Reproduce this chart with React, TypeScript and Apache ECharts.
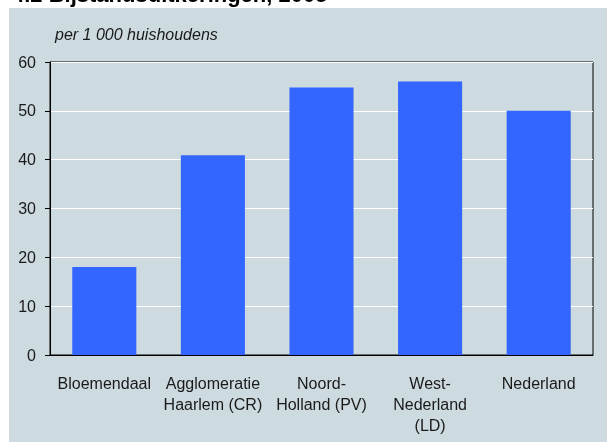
import React, { useEffect, useRef } from "react";
import * as echarts from "echarts";

const categories = [
  "Bloemendaal",
  "Agglomeratie\nHaarlem (CR)",
  "Noord-\nHolland (PV)",
  "West-\nNederland\n(LD)",
  "Nederland",
];
const values = [18, 40.9, 54.8, 56, 50];
const yTicks = [0, 10, 20, 30, 40, 50, 60];
const titleText = "4.2 Bijstandsuitkeringen, 2005";
const unitText = "per 1 000 huishoudens";

export default function App() {
  const ref = useRef<HTMLDivElement>(null);
  useEffect(() => {
    if (!ref.current) return;
    const chart = echarts.init(ref.current, undefined, { renderer: "svg" });
    const font = "Arial, 'Liberation Sans', sans-serif";
    chart.setOption({
      animation: false,
      textStyle: { fontFamily: font },
      graphic: [
        {
          type: "text",
          left: 12,
          top: -17,
          z: -20,
          style: {
            text: titleText,
            font: "bold 22px Arial, 'Liberation Sans', sans-serif",
            fill: "#000",
          },
        },
        {
          type: "rect",
          z: -10,
          silent: true,
          shape: { x: 9, y: 8, width: 598, height: 434 },
          style: { fill: "#cddbe0" },
        },
        {
          type: "text",
          left: 55,
          top: 26,
          style: {
            text: unitText,
            font: "italic 16px Arial, 'Liberation Sans', sans-serif",
            fill: "#1a1a1a",
          },
        },
      ],
      grid: {
        left: 50,
        top: 62,
        right: 14,
        bottom: 87,
        show: true,
        borderColor: "#000",
        borderWidth: 1,
        backgroundColor: "transparent",
      },
      xAxis: {
        type: "category",
        data: categories,
        axisLine: { lineStyle: { color: "#000", width: 1 } },
        axisTick: { show: false },
        axisLabel: {
          color: "#1a1a1a",
          fontSize: 16,
          lineHeight: 21,
          margin: 18,
          interval: 0,
          fontFamily: font,
        },
      },
      yAxis: {
        type: "value",
        min: 0,
        max: 60,
        interval: 10,
        axisLine: { show: true, lineStyle: { color: "#000", width: 1 } },
        axisTick: { show: true, length: 5, lineStyle: { color: "#000" } },
        axisLabel: {
          color: "#1a1a1a",
          fontSize: 16,
          margin: 14,
          fontFamily: font,
          formatter: (v: number) => (yTicks.includes(v) ? String(v) : ""),
        },
        splitLine: { show: true, lineStyle: { color: "#ffffff", width: 1 } },
      },
      series: [
        {
          type: "bar",
          data: values,
          barWidth: "59%",
          itemStyle: { color: "#3366ff" },
        },
      ],
    });
    return () => chart.dispose();
  }, []);
  return (
    <div
      ref={ref}
      style={{ position: "fixed", left: 0, top: 0, width: 607, height: 442 }}
    />
  );
}
